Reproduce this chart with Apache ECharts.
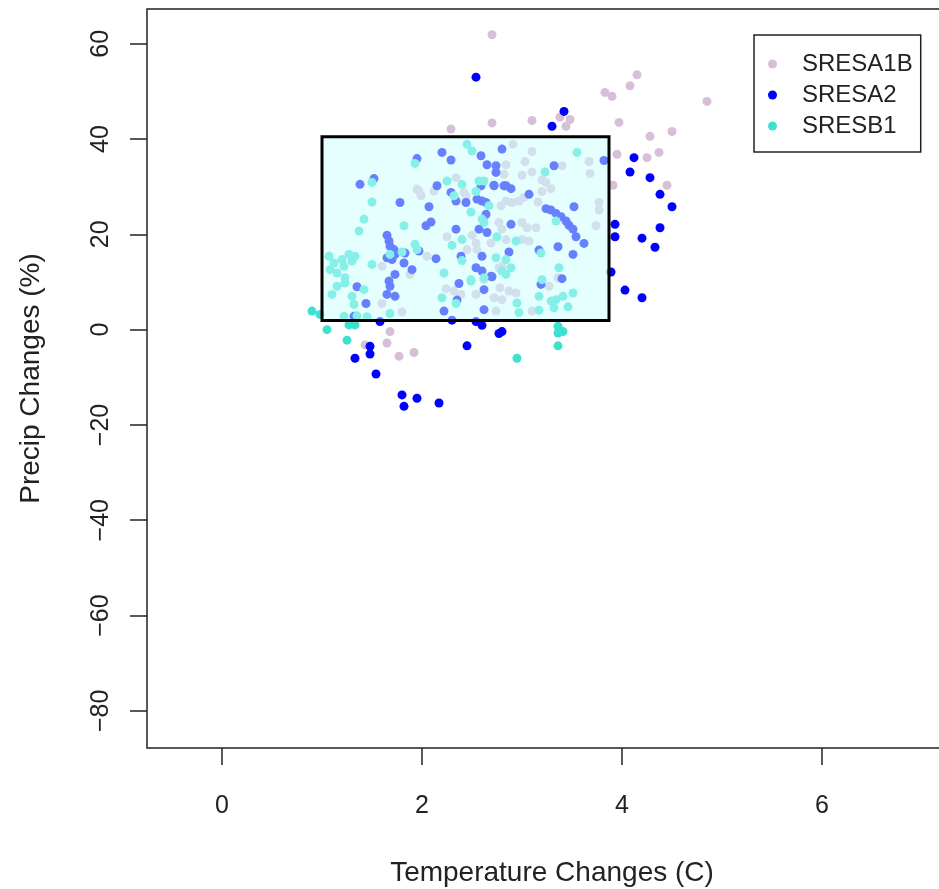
<!DOCTYPE html>
<html>
<head>
<meta charset="utf-8">
<script src="https://cdn.jsdelivr.net/npm/echarts@6/dist/echarts.min.js"></script>
<style>
html,body{margin:0;padding:0;background:#fff;overflow:hidden;}
#chart{width:939px;height:889px;}
</style>
</head>
<body>
<div id="chart"></div>
<script>
// series names (legend order)
var seriesNames = ['SRESA1B', 'SRESA2', 'SRESB1'];
var seriesColors = ['#D8BFD8', '#0000FF', '#40E0D0'];

// [temperature change, precip change]
var sresa1b = [
	[2.70,61.9],[2.70,43.4],[2.29,42.1],[4.15,53.5],[4.08,51.2],[3.83,49.8],[3.90,49.0],[4.85,47.9],
	[3.38,44.6],[3.48,44.1],[3.44,42.7],[3.10,43.9],[3.97,43.5],[4.50,41.6],[4.28,40.6],[4.37,37.2],
	[4.25,36.1],[3.95,36.8],[4.45,30.3],[3.91,30.3],[1.43,-3.2],[1.65,-2.8],[1.68,-0.4],[1.77,-5.6],
	[1.92,-4.8],[2.84,34.6],[2.91,38.9],[3.10,37.4],[3.40,34.4],[3.67,35.3],[3.03,35.3],[3.10,33.1],
	[3.68,32.8],[3.00,32.4],[2.82,32.6],[3.20,31.4],[3.24,30.9],[3.29,29.6],[3.20,29.0],[2.84,27.0],
	[2.90,26.7],[2.97,27.0],[3.02,27.7],[3.16,26.8],[3.77,26.7],[3.77,25.1],[2.77,22.5],[2.80,21.1],
	[3.00,22.5],[3.05,21.4],[3.00,18.9],[3.07,18.6],[3.14,21.4],[3.74,21.8],[2.84,18.9],[3.36,10.9],
	[1.60,5.5],[1.80,3.7],[2.24,8.6],[2.32,8.1],[2.39,7.4],[2.54,7.4],[2.72,6.7],[2.80,6.3],
	[2.78,8.8],[2.74,3.9],[3.10,3.9],[2.87,8.1],[2.94,7.7],[3.27,9.1],[1.95,29.5],[1.99,28.1],
	[2.12,29.1],[2.34,31.9],[2.42,28.8],[2.79,26.0],[2.25,19.5],[2.50,19.8],[2.54,18.2],[2.69,18.2],
	[2.45,16.8],[2.77,13.0],[2.62,10.5],[2.05,15.4],[1.60,13.3],[1.88,11.6],[1.97,29.1],[2.44,28.1],
	[2.55,16.8],[2.80,13.3]
];
var sresa2 = [
	[2.54,53.0],[3.42,45.8],[3.30,42.7],[4.12,36.1],[4.08,33.1],[4.28,31.9],[4.38,28.4],[4.50,25.8],
	[3.93,22.1],[3.93,19.5],[4.38,21.4],[4.20,19.2],[4.33,17.3],[3.89,12.1],[4.03,8.3],[4.20,6.7],
	[1.48,-3.5],[1.48,-5.1],[1.33,-6.0],[1.54,-9.3],[1.80,-13.7],[1.82,-16.1],[1.95,-14.4],[2.17,-15.4],
	[2.45,-3.4],[2.60,0.9],[2.77,-0.8],[2.80,-0.4],[1.58,1.7],[2.30,2.0],[2.54,1.7],[1.95,35.9],
	[2.20,37.2],[2.29,35.6],[2.59,36.5],[2.65,34.6],[2.74,34.4],[2.74,33.0],[2.80,37.9],[1.52,31.7],
	[3.32,34.4],[3.82,35.5],[2.72,30.3],[2.82,30.2],[2.89,29.6],[3.07,28.4],[3.52,25.8],[3.24,25.4],
	[3.29,25.1],[3.34,24.4],[3.39,23.7],[3.44,22.8],[3.47,21.9],[3.51,21.1],[3.54,19.5],[3.62,18.1],
	[2.89,22.1],[3.36,17.4],[3.17,16.7],[2.87,16.3],[3.51,15.8],[3.40,10.7],[3.19,9.5],[2.70,11.1],
	[1.35,9.0],[1.44,5.5],[1.32,2.8],[1.67,10.2],[1.68,9.1],[1.65,7.4],[1.73,7.0],[2.37,9.7],
	[2.35,6.2],[2.22,3.9],[2.62,8.4],[2.62,4.2],[1.38,30.5],[1.78,26.7],[2.07,25.8],[2.04,21.8],
	[2.09,22.6],[1.65,19.8],[1.67,18.6],[1.68,17.5],[1.65,15.1],[1.72,16.8],[1.73,15.8],[1.70,14.7],
	[1.83,16.1],[1.82,14.0],[1.90,12.6],[1.97,16.5],[2.14,14.9],[1.73,11.6],[2.15,30.2],[2.29,28.8],
	[2.34,27.0],[2.44,26.7],[2.59,30.2],[2.72,30.2],[2.84,30.2],[2.55,27.4],[2.60,27.0],[2.64,26.7],
	[2.64,24.2],[2.34,21.1],[2.57,21.1],[2.65,20.4],[2.39,15.4],[2.60,15.4],[2.54,13.0],[2.60,12.3],
	[2.69,11.2]
];
var sresb1 = [
	[0.90,3.9],[0.98,3.2],[1.05,0.0],[1.25,-2.2],[1.27,1.0],[1.33,1.0],[3.36,0.7],[3.36,-0.7],
	[3.41,-0.4],[3.36,-3.4],[2.95,-6.0],[2.45,38.9],[2.50,37.5],[1.93,34.9],[3.55,37.2],[3.23,33.1],
	[3.34,22.8],[2.75,19.5],[2.94,18.6],[3.19,16.1],[2.74,15.1],[2.84,14.7],[2.89,13.0],[2.84,11.6],
	[2.80,12.3],[3.37,13.0],[3.20,10.5],[1.10,7.4],[1.15,9.1],[1.23,9.8],[1.30,7.0],[1.32,5.3],
	[1.42,8.4],[1.22,2.8],[1.35,2.9],[1.45,2.7],[1.68,3.4],[2.20,6.7],[2.34,5.5],[2.49,10.2],
	[3.17,7.0],[3.29,6.0],[3.34,6.3],[3.32,4.6],[3.41,7.0],[3.51,7.7],[3.46,4.8],[3.17,4.1],
	[2.95,5.6],[2.97,3.6],[1.50,30.9],[1.50,26.8],[1.42,23.2],[1.37,20.7],[1.82,21.8],[1.68,15.8],
	[1.80,16.3],[1.93,17.9],[1.95,16.8],[1.50,13.7],[1.07,15.4],[1.12,14.0],[1.20,14.7],[1.27,15.8],
	[1.30,14.4],[1.08,12.6],[1.15,11.9],[1.23,10.9],[1.22,13.3],[1.33,15.4],[2.22,11.9],[2.25,31.2],
	[2.40,30.5],[2.32,28.1],[2.54,29.0],[2.57,31.2],[2.62,31.2],[2.67,26.0],[2.49,24.7],[2.60,23.2],
	[2.62,22.5],[2.40,18.9],[2.30,17.7],[2.40,14.5],[2.49,10.5],[2.62,10.9]
];

// highlighted range box: [temp from, precip from, temp to, precip to]
var boxRange = [[1.0, 1.9, 3.87, 40.5]];

// axes
var xTicks = [0, 2, 4, 6];
var yTicks = [-80, -60, -40, -20, 0, 20, 40, 60];
var xRange = [-0.75, 7.35];
var yRange = [-87.8, 67.3];

var fontFam = 'Liberation Sans, Arial, Helvetica, sans-serif';
var myChart = echarts.init(document.getElementById('chart'), null, {renderer: 'canvas'});

var seriesData = [sresa1b, sresa2, sresb1];
var series = [];
for (var i = 0; i < seriesNames.length; i++) {
	series.push({
		name: seriesNames[i],
		type: 'scatter',
		symbol: 'circle',
		symbolSize: 9,
		data: seriesData[i],
		itemStyle: {color: seriesColors[i], opacity: 1},
		z: 2
	});
}
// the box, drawn above the points (translucent like the original)
series.push({
	name: 'box',
	type: 'custom',
	silent: true,
	z: 10,
	data: boxRange,
	renderItem: function(params, api) {
		var p0 = api.coord([api.value(0), api.value(3)]);
		var p1 = api.coord([api.value(2), api.value(1)]);
		return {
			type: 'rect',
			shape: {x: p0[0], y: p0[1], width: p1[0] - p0[0], height: p1[1] - p0[1]},
			style: {
				fill: 'rgba(204,255,255,0.5)',
				stroke: '#000',
				lineWidth: 3
			}
		};
	}
});

var option = {
	animation: false,
	backgroundColor: '#fff',
	textStyle: {fontFamily: fontFam},
	grid: {
		left: 147,
		top: 9,
		width: 810,
		bottom: 141,
		outerBoundsMode: 'none',
		show: true,
		borderColor: '#222',
		borderWidth: 1.5,
		backgroundColor: 'transparent'
	},
	legend: {
		data: seriesNames,
		orient: 'vertical',
		left: 754,
		top: 35,
		padding: [17, 8, 14, 14],
		itemGap: 7,
		itemWidth: 9,
		itemHeight: 9,
		icon: 'circle',
		borderColor: '#222',
		borderWidth: 1.5,
		backgroundColor: '#fff',
		textStyle: {
			fontFamily: fontFam,
			fontSize: 24,
			color: '#222',
			padding: [0, 0, 0, 20],
			lineHeight: 24
		}
	},
	xAxis: {
		type: 'value',
		min: xRange[0],
		max: xRange[1],
		name: 'Temperature Changes (C)',
		nameLocation: 'middle',
		nameGap: 111,
		nameTextStyle: {fontSize: 28, color: '#222', fontFamily: fontFam},
		axisLine: {show: false, onZero: false},
		splitLine: {show: false},
		axisTick: {show: true, length: 17, customValues: xTicks, lineStyle: {color: '#222', width: 1.5}},
		axisLabel: {customValues: xTicks, fontSize: 25, color: '#222', margin: 46, fontFamily: fontFam}
	},
	yAxis: {
		type: 'value',
		min: yRange[0],
		max: yRange[1],
		name: 'Precip Changes (%)',
		nameLocation: 'middle',
		nameGap: 102,
		nameRotate: 90,
		nameTextStyle: {fontSize: 28, color: '#222', fontFamily: fontFam},
		axisLine: {show: false, onZero: false},
		splitLine: {show: false},
		axisTick: {show: true, length: 17, customValues: yTicks, lineStyle: {color: '#222', width: 1.5}},
		axisLabel: {
			customValues: yTicks,
			rotate: 90,
			fontSize: 25,
			color: '#222',
			margin: 33,
			fontFamily: fontFam,
			formatter: function(v) { return v < 0 ? '\u2212' + Math.abs(v) : String(v); }
		}
	},
	series: series
};
myChart.setOption(option);
</script>
</body>
</html>
